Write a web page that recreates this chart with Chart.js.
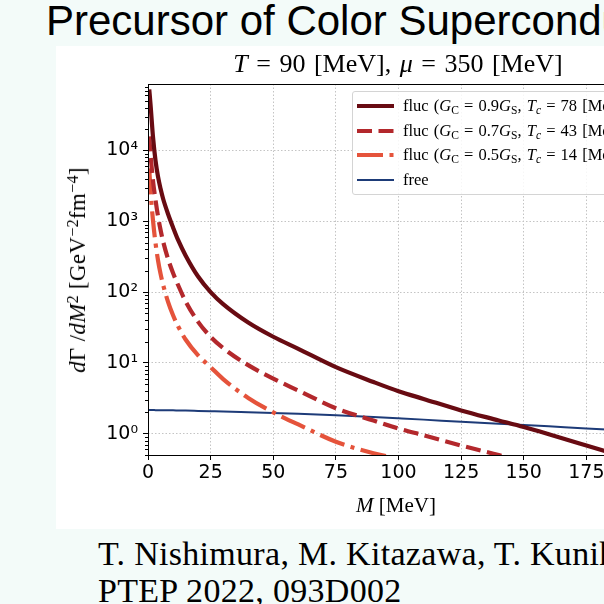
<!DOCTYPE html>
<html>
<head>
<meta charset="utf-8">
<script src="https://cdn.jsdelivr.net/npm/chart.js@4.4.0/dist/chart.umd.min.js"></script>
<style>
html, body { margin: 0; padding: 0; }
body { width: 604px; height: 604px; overflow: hidden; position: relative; background: #f3fbf9; }
#slideTitle { position: absolute; left: 46px; top: -3px; font: 42px "Liberation Sans", Arial, sans-serif; white-space: nowrap; color: #000; line-height: 48px; }
#panel { position: absolute; left: 56px; top: 46px; width: 700px; height: 483px; background: #fff; }
#chart { position: absolute; left: 0; top: 0; }
.tex { font-family: "Liberation Serif", "DejaVu Serif", serif; color: #000; white-space: nowrap; }
#plotTitle { position: absolute; left: 398px; top: 50px; transform: translateX(-50%); font-size: 26px; line-height: 28px; word-spacing: 2px; }
#xTitle { position: absolute; left: 396px; top: 492px; transform: translateX(-50%); font-size: 21px; line-height: 26px; }
#yTitle { position: absolute; left: 78px; top: 270px; transform: translate(-50%, -50%) rotate(-90deg); font-size: 23px; line-height: 26px; letter-spacing: 0.3px; }
#legend { position: absolute; left: 352px; top: 91px; width: 330px; height: 102px; border: 1px solid #d4d4d4; border-radius: 3px; background: rgba(255,255,255,0.85); }
.row { position: absolute; left: 0; height: 24px; font-size: 16.5px; line-height: 24px; word-spacing: 1px; }
.row svg { position: absolute; left: 2px; top: 7px; }
.row span { position: absolute; left: 50px; top: 0; }
sub { font-size: 70%; vertical-align: -0.25em; line-height: 0; }
sup { font-size: 70%; vertical-align: 0.45em; line-height: 0; }
#cite { position: absolute; left: 98px; top: 535px; font-size: 34px; line-height: 37px; letter-spacing: 0.3px; }
</style>
</head>
<body>
<div id="slideTitle">Precursor of Color Superconductivity</div>
<div id="panel"><canvas id="chart" width="650" height="483"></canvas></div>
<div id="plotTitle" class="tex"><i>T</i> = 90 [MeV], <i>μ</i> = 350 [MeV]</div>
<div id="xTitle" class="tex"><i>M</i> [MeV]</div>
<div id="yTitle" class="tex"><i>d</i>Γ /<i>dM</i><sup>2</sup> [GeV<sup>−2</sup>fm<sup>−4</sup>]</div>
<div id="legend" class="tex"></div>
<div id="cite" class="tex">T. Nishimura, M. Kitazawa, T. Kunihiro,<br>PTEP 2022, 093D002</div>
<script>
// invariant mass M [MeV]
const massMeV = [0, 0.5, 1, 2, 3, 4, 5, 6, 8, 10, 12, 15, 20, 25, 30, 40, 50, 60, 75, 90, 100, 110, 125, 140, 150, 160, 175, 190, 200];

// dGamma/dM^2 [GeV^-2 fm^-4]
const fluc09 = [null, 73000, 45000, 15500, 7200, 4270, 2900, 2100, 1270, 820, 545, 330, 166, 100, 67.6, 37.2, 23.4, 15.8, 8.7, 5.37, 3.98, 3.1, 2.13, 1.54, 1.24, 0.98, 0.68, 0.47, 0.37];
const fluc07 = [null, 15850, 8900, 3720, 2000, 1175, 760, 525, 295, 186, 126, 74, 38, 23.4, 16.2, 9.3, 6.0, 4.07, 2.29, 1.53, 1.18, 0.95, 0.68, 0.5, 0.41, 0.34, 0.24, 0.17, 0.14];
const fluc05 = [null, 5600, 2700, 1025, 493, 281, 182, 128, 72.8, 47.1, 33, 21.4, 12.8, 8.7, 5.9, 3.2, 2.0, 1.35, 0.77, 0.53, 0.44, 0.36, 0.26, 0.19, 0.16, 0.13, 0.1, 0.08, 0.07];
const freeRate = [2.16, 2.16, 2.16, 2.16, 2.15, 2.15, 2.15, 2.15, 2.14, 2.14, 2.13, 2.12, 2.10, 2.08, 2.06, 2.01, 1.96, 1.91, 1.82, 1.72, 1.65, 1.58, 1.47, 1.38, 1.33, 1.27, 1.18, 1.11, 1.06];

const seriesLabels = [
    'fluc (<i>G</i><sub>C</sub> = 0.9<i>G</i><sub>S</sub>, <i>T<sub>c</sub></i> = 78 [MeV])',
    'fluc (<i>G</i><sub>C</sub> = 0.7<i>G</i><sub>S</sub>, <i>T<sub>c</sub></i> = 43 [MeV])',
    'fluc (<i>G</i><sub>C</sub> = 0.5<i>G</i><sub>S</sub>, <i>T<sub>c</sub></i> = 14 [MeV])',
    'free'
];

const xTicks = [0, 25, 50, 75, 100, 125, 150, 175, 200];
const yTicks = [1, 10, 100, 1000, 10000];
const supDigits = { "0": "⁰", "1": "¹", "2": "²", "3": "³", "4": "⁴" };

const toPoints = arr => massMeV.map((m, i) => ({ x: m, y: arr[i] }));

const frame = {
    id: "frame",
    afterDatasetsDraw(chart) {
        const { ctx, chartArea: a, scales: { y } } = chart;
        ctx.save();
        ctx.strokeStyle = "#000";
        ctx.lineWidth = 1;
        ctx.strokeRect(a.left + 0.5, a.top + 0.5, a.right - a.left, a.bottom - a.top);
        // minor log ticks
        ctx.beginPath();
        for (let d = -1; d <= 4; d++) {
            for (let k = 2; k <= 9; k++) {
                const v = k * Math.pow(10, d);
                if (v < y.min || v > y.max) continue;
                const py = Math.round(y.getPixelForValue(v)) + 0.5;
                ctx.moveTo(a.left - 3, py);
                ctx.lineTo(a.left, py);
            }
        }
        ctx.stroke();
        ctx.restore();
    }
};

const gridStyle = {
    color: "#c4c4c4",
    lineWidth: 1,
    tickColor: "#000",
    tickLength: 5,
    tickWidth: 1
};

const chart = new Chart(document.getElementById("chart"), {
    type: "line",
    data: {
        datasets: [
            { label: "fluc 0.9", data: toPoints(fluc09), borderColor: "#680b12", borderWidth: 4.2 },
            { label: "fluc 0.7", data: toPoints(fluc07), borderColor: "#b3282c", borderWidth: 4.2, borderDash: [15, 6.5] },
            { label: "fluc 0.5", data: toPoints(fluc05), borderColor: "#e5533b", borderWidth: 4.2, borderDash: [26, 6.5, 4, 6.5] },
            { label: "free", data: toPoints(freeRate), borderColor: "#1d3b78", borderWidth: 2 }
        ]
    },
    options: {
        responsive: false,
        animation: false,
        devicePixelRatio: 1,
        layout: { padding: { top: 38, right: 57, left: 0, bottom: 0 } },
        elements: {
            point: { radius: 0 },
            line: { cubicInterpolationMode: "monotone", borderCapStyle: "butt", fill: false }
        },
        plugins: { legend: { display: false }, tooltip: { enabled: false } },
        scales: {
            x: {
                type: "linear",
                min: 0,
                max: 200,
                afterFit: s => { s.height = 74; },
                afterBuildTicks: s => { s.ticks = xTicks.map(v => ({ value: v })); },
                ticks: { font: { family: "DejaVu Sans", size: 19 }, color: "#000", padding: 2, maxRotation: 0 },
                grid: gridStyle,
                border: { display: false, dash: [1.5, 2] }
            },
            y: {
                type: "logarithmic",
                min: 0.5,
                max: 87000,
                afterFit: s => { s.width = 92; },
                afterBuildTicks: s => { s.ticks = yTicks.map(v => ({ value: v })); },
                ticks: {
                    font: { family: "DejaVu Sans", size: 19 },
                    color: "#000",
                    padding: 5,
                    callback: v => "10" + supDigits[String(Math.round(Math.log10(v)))]
                },
                grid: gridStyle,
                border: { display: false, dash: [1.5, 2] }
            }
        }
    },
    plugins: [frame]
});

// legend built from the chart's datasets
const legend = document.getElementById("legend");
chart.data.datasets.forEach((ds, i) => {
    const row = document.createElement("div");
    row.className = "row";
    row.style.top = (2 + i * 24.7) + "px";
    const dash = ds.borderDash ? ds.borderDash.join(" ") : "none";
    row.innerHTML =
        '<svg width="40" height="10"><line x1="2" y1="5" x2="39" y2="5" stroke="' + ds.borderColor +
        '" stroke-width="' + ds.borderWidth + '" stroke-dasharray="' + dash + '"/></svg>' +
        '<span>' + seriesLabels[i] + '</span>';
    legend.appendChild(row);
});
</script>
</body>
</html>
